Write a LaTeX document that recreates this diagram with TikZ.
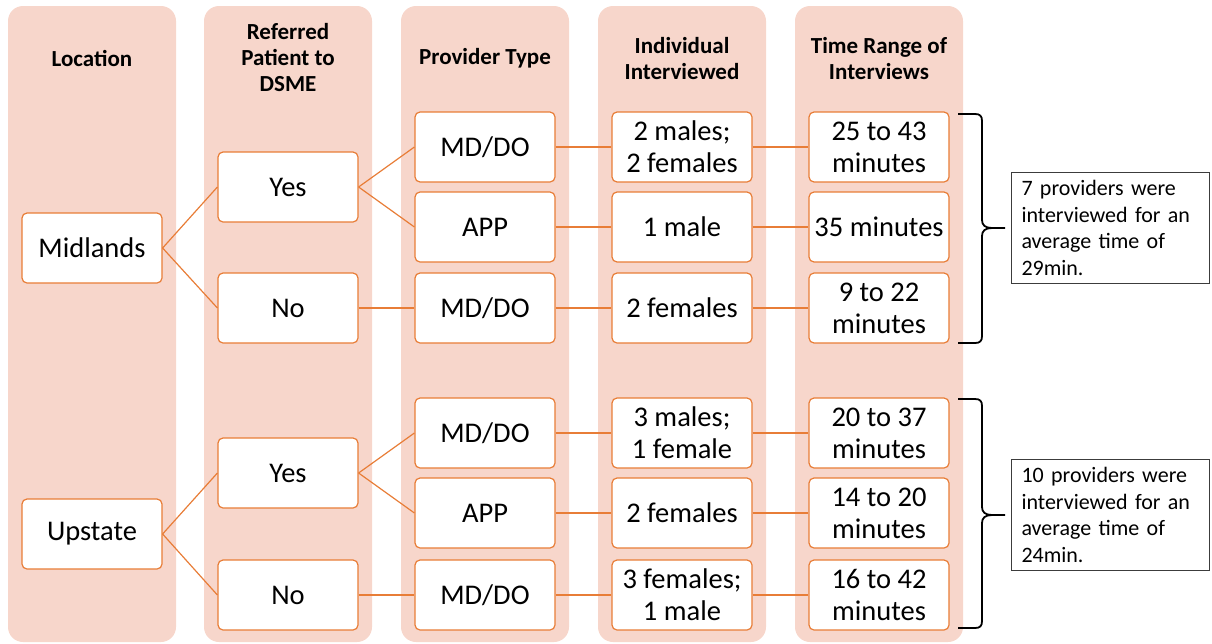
\documentclass[tikz,border=0pt]{standalone}
\usepackage{fontspec}
\setmainfont{Carlito}
\definecolor{colfill}{RGB}{247,214,203}
\definecolor{edge}{RGB}{232,125,55}
\definecolor{notedge}{RGB}{60,60,60}
\begin{document}
\begin{tikzpicture}[x=1pt,y=-1pt,
  colbg/.style={fill=colfill, rounded corners=15pt},
  item/.style={draw=edge, line width=1.2pt, fill=white, rounded corners=5pt,
    minimum width=140pt, minimum height=70pt, inner sep=0pt, align=center,
    font=\fontsize{28.5}{32}\selectfont},
  head/.style={align=center, font=\fontsize{23}{26}\selectfont\bfseries},
  link/.style={draw=edge, line width=1.2pt},
  note/.style={draw=notedge, line width=1pt, fill=white, align=left,
    text width=178pt, inner xsep=10pt, inner ysep=8pt, anchor=west,
    font=\fontsize{22}{26.7}\selectfont},
  brace/.style={draw=black, line width=1.8pt}]
\useasboundingbox (0,0) rectangle (1212,643);

% column backgrounds
\foreach \xl in {8,204,401,598,795}
  \path[colbg] (\xl,6) rectangle ++(168,636);

% column headings
\node[head] (h1) at (92,58) {Location};
\node[head] (h2) at (288,58) {Referred\\Patient to\\DSME};
\node[head] (h3) at (485,58) {Provider Type};
\node[head] (h4) at (682,59) {Individual\\Interviewed};
\node[head] (h5) at (879,59) {Time Range of\\Interviews};

% Midlands branch
\node[item] (mid) at (92,248) {Midlands};
\node[item] (myes) at (288,187) {Yes};
\node[item] (mno) at (288,308) {No};
\node[item] (mp1) at (485,147) {MD/DO};
\node[item] (mp2) at (485,227) {APP};
\node[item] (mp3) at (485,308) {MD/DO};
\node[item] (mi1) at (682,147) {2 males;\\2 females};
\node[item] (mi2) at (682,227) {1 male};
\node[item] (mi3) at (682,308) {2 females};
\node[item] (mt1) at (879,147) {25 to 43\\minutes};
\node[item] (mt2) at (879,227) {35 minutes};
\node[item] (mt3) at (879,308) {9 to 22\\minutes};

% Upstate branch
\node[item] (up) at (92,534) {Upstate};
\node[item] (uyes) at (288,473) {Yes};
\node[item] (uno) at (288,595) {No};
\node[item] (up1) at (485,433) {MD/DO};
\node[item] (up2) at (485,513) {APP};
\node[item] (up3) at (485,595) {MD/DO};
\node[item] (ui1) at (682,433) {3 males;\\1 female};
\node[item] (ui2) at (682,513) {2 females};
\node[item] (ui3) at (682,595) {3 females;\\1 male};
\node[item] (ut1) at (879,433) {20 to 37\\minutes};
\node[item] (ut2) at (879,513) {14 to 20\\minutes};
\node[item] (ut3) at (879,595) {16 to 42\\minutes};

% connectors
\foreach \a/\b in {mid/myes, mid/mno, myes/mp1, myes/mp2, mno/mp3,
                   up/uyes, up/uno, uyes/up1, uyes/up2, uno/up3}
  \path[link] (\a.east) -- (\b.west);
\foreach \a/\b/\c in {mp1/mi1/mt1, mp2/mi2/mt2, mp3/mi3/mt3,
                      up1/ui1/ut1, up2/ui2/ut2, up3/ui3/ut3}
  \path[link] (\a.east) -- (\b.west) (\b.east) -- (\c.west);

% summary notes
\node[note] (n1) at (1011,228) {7 providers were\\interviewed for an\\average time of\\29min.};
\node[note] (n2) at (1011,515) {10 providers were\\interviewed for an\\average time of\\24min.};

% braces
\path[brace] (958,114) -- (975,114) .. controls (980,114) and (982,116) .. (982,121)
  -- (982,220) .. controls (982,225) and (985,228) .. (992,228) -- ([xshift=-6pt]n1.west);
\path[brace] (958,343) -- (975,343) .. controls (980,343) and (982,341) .. (982,336)
  -- (982,236) .. controls (982,231) and (985,228) .. (992,228);
\path[brace] (958,399) -- (975,399) .. controls (980,399) and (982,401) .. (982,406)
  -- (982,507) .. controls (982,512) and (985,515) .. (992,515) -- ([xshift=-6pt]n2.west);
\path[brace] (958,628) -- (975,628) .. controls (980,628) and (982,626) .. (982,621)
  -- (982,523) .. controls (982,518) and (985,515) .. (992,515);
\end{tikzpicture}
\end{document}
